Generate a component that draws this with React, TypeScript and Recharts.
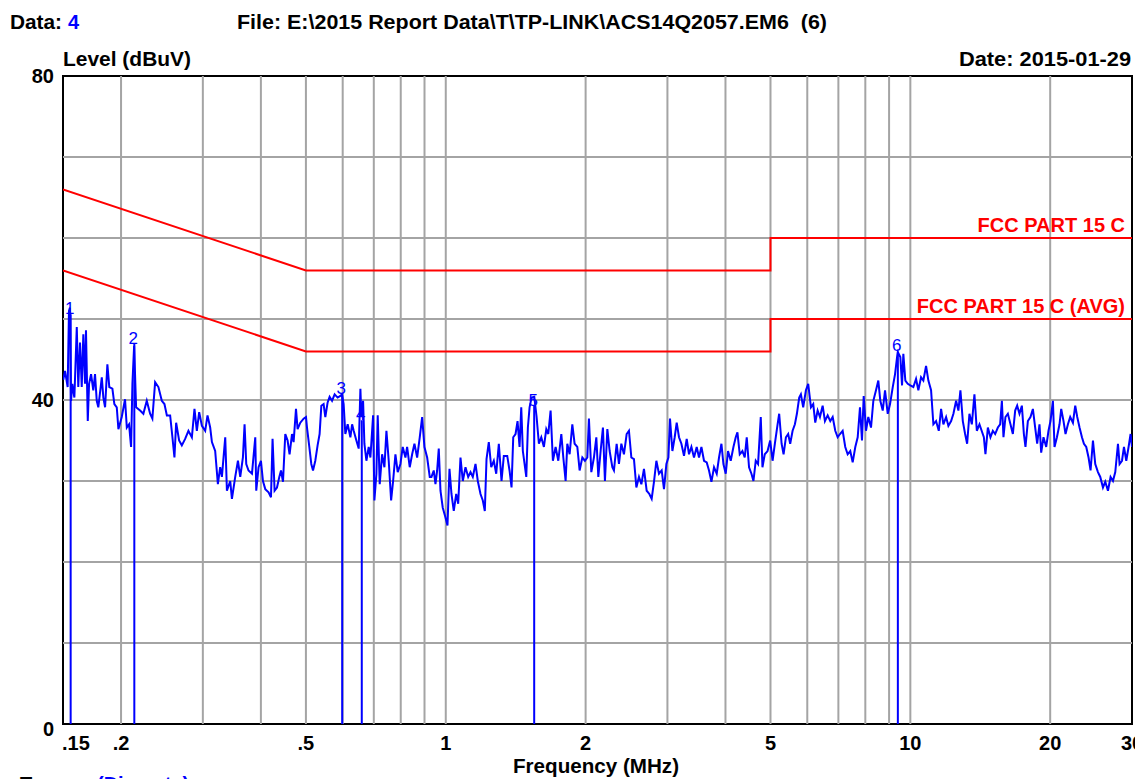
import React from "react";
import { LineChart, Line, XAxis, YAxis, ReferenceLine, ReferenceArea, ReferenceDot } from "recharts";

const FONT = "'Liberation Sans', Arial, sans-serif";
const BLUE = "#0000ff";
const RED = "#ff0000";
const GRID = "#a4a4a4";

// 扫描曲线 (MHz / dBuV)
const traceFreq = [
  0.1502, 0.1515, 0.1535, 0.1545, 0.1553, 0.1561, 0.1571, 0.1587, 0.1606, 0.1618, 0.1632, 0.1646, 0.1659, 0.1673, 0.1681,
  0.1696, 0.1707, 0.1724, 0.1743, 0.1758, 0.1773, 0.1787, 0.1818, 0.1832, 0.1848, 0.1869, 0.1887, 0.1916, 0.1935, 0.1958,
  0.1974, 0.2007, 0.204, 0.2058, 0.2081, 0.2102, 0.2116, 0.2134, 0.2155, 0.2198, 0.2234, 0.2272, 0.231, 0.2336, 0.2368,
  0.2407, 0.2448, 0.248, 0.251, 0.2551, 0.258, 0.2606, 0.2628, 0.2667, 0.2703, 0.2748, 0.2793, 0.2841, 0.2878, 0.2912,
  0.2946, 0.2986, 0.3035, 0.307, 0.3111, 0.3138, 0.3189, 0.3232, 0.3269, 0.3297, 0.3352, 0.338, 0.3436, 0.3465, 0.3522,
  0.357, 0.3611, 0.3659, 0.3689, 0.372, 0.3762, 0.3827, 0.389, 0.3909, 0.3954, 0.4001, 0.4041, 0.4088, 0.4155, 0.4205,
  0.4238, 0.4281, 0.4332, 0.4382, 0.4419, 0.4463, 0.4514, 0.4566, 0.4611, 0.4667, 0.4704, 0.476, 0.4798, 0.4863, 0.4943,
  0.5002, 0.5027, 0.5085, 0.5135, 0.5179, 0.5238, 0.5298, 0.5351, 0.5397, 0.5458, 0.5505, 0.5568, 0.5623, 0.5691, 0.5765,
  0.5851, 0.593, 0.598, 0.6028, 0.6079, 0.615, 0.6233, 0.6286, 0.6336, 0.6421, 0.6495, 0.655, 0.6582, 0.6638, 0.6681,
  0.6748, 0.6825, 0.6883, 0.6976, 0.7021, 0.7091, 0.7137, 0.7208, 0.7294, 0.7378, 0.7452, 0.7537, 0.7627, 0.7703, 0.7792,
  0.7881, 0.7987, 0.8079, 0.8188, 0.8257, 0.8364, 0.8465, 0.8562, 0.8677, 0.879, 0.8895, 0.8997, 0.9119, 0.9237, 0.9315,
  0.9422, 0.9502, 0.9582, 0.9659, 0.9741, 0.9852, 0.9985, 1.0085, 1.0186, 1.0287, 1.0405, 1.053, 1.0635, 1.0757, 1.0881,
  1.1027, 1.1176, 1.1304, 1.1434, 1.1588, 1.1721, 1.1879, 1.2015, 1.2135, 1.2238, 1.2378, 1.2527, 1.2689, 1.2841, 1.3008,
  1.3183, 1.3334, 1.3561, 1.3717, 1.3854, 1.3971, 1.4132, 1.4273, 1.4415, 1.4537, 1.4653, 1.4778, 1.4904, 1.5022, 1.515,
  1.53, 1.5507, 1.5686, 1.5866, 1.6055, 1.6264, 1.6458, 1.6622, 1.6813, 1.7006, 1.7235, 1.7467, 1.773, 1.7907, 1.8112,
  1.8265, 1.8475, 1.8724, 1.8939, 1.9194, 1.9414, 1.9677, 1.9932, 2.017, 2.0331, 2.0574, 2.0841, 2.109, 2.13, 2.1545,
  2.1792, 2.201, 2.2274, 2.2529, 2.2833, 2.3015, 2.3325, 2.3592, 2.3874, 2.4184, 2.451, 2.4791, 2.5088, 2.5415, 2.5719,
  2.6054, 2.6366, 2.6708, 2.7068, 2.7432, 2.7747, 2.8065, 2.8401, 2.877, 2.9158, 2.9493, 2.9846, 3.0144, 3.0384, 3.0747,
  3.1101, 3.1411, 3.1772, 3.2152, 3.2569, 3.3008, 3.3387, 3.3786, 3.4225, 3.4686, 3.5084, 3.5504, 3.5966, 3.645, 3.6867,
  3.7309, 3.7794, 3.8303, 3.8742, 3.9206, 3.9597, 4.005, 4.051, 4.1057, 4.161, 4.2087, 4.2444, 4.2931, 4.3509, 4.4008,
  4.4447, 4.4957, 4.5496, 4.595, 4.6477, 4.7011, 4.7646, 4.8049, 4.86, 4.928, 4.992, 5.052, 5.11, 5.179, 5.22,
  5.283, 5.335, 5.397, 5.458, 5.513, 5.579, 5.643, 5.699, 5.765, 5.813, 5.88, 5.96, 6.028, 6.11, 6.18,
  6.242, 6.316, 6.389, 6.475, 6.549, 6.638, 6.724, 6.805, 6.893, 6.975, 7.056, 7.15, 7.243, 7.33, 7.425,
  7.514, 7.612, 7.703, 7.791, 7.869, 7.936, 8.027, 8.119, 8.229, 8.324, 8.435, 8.532, 8.617, 8.721, 8.821,
  8.94, 9.043, 9.165, 9.27, 9.363, 9.4, 9.516, 9.597, 9.659, 9.755, 9.872, 10.0, 10.15, 10.287, 10.405,
  10.545, 10.666, 10.81, 10.935, 11.082, 11.209, 11.36, 11.514, 11.646, 11.78, 11.939, 12.075, 12.239, 12.38, 12.546,
  12.69, 12.817, 12.97, 13.119, 13.251, 13.403, 13.563, 13.739, 13.903, 14.085, 14.396, 14.51, 14.684, 14.874, 15.052,
  15.225, 15.43, 15.607, 15.74, 15.865, 16.023, 16.215, 16.425, 16.622, 16.813, 16.98, 17.175, 17.38, 17.554, 17.694,
  17.905, 18.138, 18.355, 18.566, 18.751, 18.966, 19.127, 19.347, 19.608, 19.833, 20.031, 20.271, 20.433, 20.678, 20.946,
  21.123, 21.366, 21.579, 21.837, 22.087, 22.386, 22.643, 22.869, 23.132, 23.409, 23.642, 23.913, 24.188, 24.429, 24.722,
  25.005, 25.342, 25.633, 25.979, 26.277, 26.631, 26.977, 27.3, 27.613, 27.985, 28.209, 28.547, 28.831, 29.162, 29.496,
  29.79, 30.0,
];
const traceLevel = [
  42.5, 43.6, 41.6, 51.0, 51.4, 39.9, 42.0, 40.3, 49.0, 41.6, 47.1, 41.6, 48.1, 42.0, 48.6,
  37.4, 42.0, 43.2, 41.2, 43.2, 39.9, 39.1, 42.8, 40.3, 39.1, 44.4, 41.6, 41.4, 39.5, 39.1,
  36.4, 37.9, 40.1, 36.6, 37.0, 34.2, 42.0, 46.7, 39.1, 38.7, 38.3, 39.9, 38.3, 37.7, 42.2,
  41.6, 39.9, 39.5, 38.1, 38.1, 35.4, 32.9, 37.2, 35.0, 34.4, 35.2, 36.2, 35.4, 38.9, 36.2,
  38.5, 36.8, 36.2, 38.1, 36.6, 34.8, 33.7, 29.6, 31.7, 30.5, 35.4, 28.8, 30.0, 27.8, 30.5,
  32.5, 30.5, 32.9, 37.0, 32.1, 31.3, 30.9, 35.4, 28.8, 31.7, 32.5, 30.0, 29.0, 28.6, 28.0,
  35.2, 28.8, 29.2, 30.5, 31.3, 29.9, 35.8, 35.0, 33.3, 35.8, 34.8, 38.9, 36.4, 37.2, 37.7,
  37.9, 36.6, 34.2, 32.1, 31.3, 32.5, 34.4, 35.8, 39.3, 39.5, 37.9, 39.7, 40.4, 39.9, 40.7,
  40.3, 40.5, 40.7, 39.5, 35.8, 37.0, 35.4, 37.0, 36.2, 35.0, 34.0, 41.4, 37.9, 39.9, 34.6,
  32.5, 34.2, 32.9, 38.1, 27.6, 30.9, 38.1, 29.6, 33.3, 31.7, 36.2, 32.5, 27.6, 30.0, 33.3,
  31.1, 32.1, 34.2, 32.9, 34.2, 31.7, 33.3, 34.6, 32.9, 35.4, 37.9, 34.2, 32.9, 30.5, 30.5,
  31.3, 29.6, 31.3, 34.0, 28.8, 26.7, 25.5, 24.5, 31.5, 28.4, 26.3, 28.4, 27.2, 32.9, 30.0,
  31.7, 30.5, 31.1, 30.5, 32.1, 30.0, 28.4, 27.6, 26.3, 32.7, 34.8, 31.7, 32.5, 30.9, 34.6,
  30.0, 33.1, 33.1, 31.3, 29.2, 35.4, 35.8, 37.4, 34.2, 39.1, 33.7, 32.1, 30.5, 36.6, 39.1,
  40.3, 40.4, 37.9, 34.6, 35.4, 34.2, 36.4, 35.8, 38.7, 32.5, 34.2, 32.5, 35.8, 32.9, 30.0,
  34.6, 33.3, 37.0, 34.6, 34.2, 31.3, 32.9, 32.5, 32.9, 37.7, 31.1, 32.9, 35.4, 30.5, 33.7,
  36.6, 30.0, 36.4, 33.7, 31.7, 31.3, 34.6, 32.1, 34.6, 33.3, 35.8, 36.2, 32.9, 32.7, 29.2,
  30.5, 29.6, 31.5, 28.8, 28.4, 27.8, 29.9, 32.5, 30.9, 31.3, 29.0, 32.1, 32.9, 37.7, 33.7,
  35.4, 37.2, 35.4, 34.6, 33.1, 35.2, 33.3, 34.2, 32.9, 34.2, 32.9, 34.2, 32.5, 32.3, 31.3,
  29.9, 31.7, 30.9, 32.9, 34.6, 32.1, 30.9, 33.7, 32.5, 34.2, 35.4, 36.0, 33.3, 33.7, 32.9,
  35.4, 31.7, 30.9, 30.0, 32.5, 32.1, 37.9, 31.7, 33.3, 33.7, 35.0, 32.5, 34.6, 37.0, 38.3,
  34.6, 33.3, 35.4, 35.8, 34.6, 36.2, 37.0, 38.3, 40.3, 40.7, 39.1, 41.2, 42.0, 39.1, 39.5,
  37.2, 38.7, 37.9, 39.3, 37.4, 38.1, 37.4, 37.9, 36.2, 35.4, 35.8, 36.2, 34.2, 33.3, 33.7,
  32.3, 34.2, 35.4, 39.1, 35.0, 40.5, 36.2, 37.9, 36.6, 39.9, 41.2, 42.4, 39.9, 38.7, 41.2,
  38.3, 39.5, 41.6, 43.2, 45.3, 45.9, 45.3, 41.8, 45.7, 42.4, 42.0, 41.8, 41.6, 42.6, 41.2,
  42.8, 42.4, 44.2, 42.4, 41.2, 37.0, 37.4, 36.2, 38.9, 37.0, 37.9, 36.8, 37.4, 38.3, 39.9,
  38.7, 41.2, 37.4, 35.8, 34.6, 38.3, 37.0, 40.7, 36.2, 37.0, 35.4, 33.3, 36.6, 35.4, 36.2,
  35.8, 36.6, 37.0, 39.9, 35.4, 37.9, 38.3, 37.0, 35.8, 38.7, 39.3, 38.3, 39.3, 35.8, 34.2,
  37.4, 37.9, 38.9, 36.6, 34.6, 37.0, 33.5, 35.4, 34.2, 36.2, 37.4, 39.9, 34.2, 35.4, 37.0,
  38.9, 37.4, 35.8, 37.0, 37.9, 37.2, 39.3, 37.9, 36.6, 35.4, 34.6, 34.2, 32.9, 31.3, 35.0,
  32.1, 31.1, 30.5, 29.2, 29.9, 28.8, 30.5, 30.0, 31.1, 34.6, 32.1, 32.5, 34.2, 32.5, 34.2,
  35.8, 34.2,
];

// FCC PART 15 C 限值
const limitFreq = [0.15, 0.5, 5, 5, 30];
const qpLimit = [66, 56, 56, 60, 60];
const avgLimit = [56, 46, 46, 50, 50];

// 标记点
const markerNo = ["1", "2", "3", "4", "5", "6"];
const markerFreq = [0.1558, 0.2136, 0.5985, 0.6595, 1.55, 9.4];
const markerLevel = [50.6, 46.9, 40.7, 37.5, 39.3, 46.0];

// 网格 / 刻度
const gridFreq = [0.2, 0.3, 0.4, 0.5, 0.6, 0.7, 0.8, 0.9, 1, 2, 3, 4, 5, 6, 7, 8, 9, 10, 20];
const gridLevel = [10, 20, 30, 40, 50, 60, 70];
const xTicks = [0.15, 0.2, 0.5, 1, 2, 5, 10, 20, 30];
const xTickLabels = [".15", ".2", ".5", "1", "2", "5", "10", "20", "30"];
const yTicks = [0, 40, 80];

const traceData = traceFreq.map((f, i) => ({ f, level: traceLevel[i] }));
const qpData = limitFreq.map((f, i) => ({ f, level: qpLimit[i] }));
const avgData = limitFreq.map((f, i) => ({ f, level: avgLimit[i] }));
const last = limitFreq.length - 1;

const txt = { fontFamily: FONT, fontWeight: 700, fontSize: 20 } as const;

const renderXTick = (props: any) => {
  const { x, y, payload } = props;
  const i = xTicks.indexOf(payload.value);
  const first = i === 0;
  return (
    <text x={first ? x - 1 : x} y={y + 26} textAnchor={first ? "start" : "middle"} fill="#000" style={txt}>
      {xTickLabels[i]}
    </text>
  );
};

const renderYTick = (props: any) => {
  const { x, y, payload } = props;
  return (
    <text x={x - 9} y={y + (payload.value === 0 ? 12 : 7)} textAnchor="end" fill="#000" style={txt}>
      {payload.value}
    </text>
  );
};

const limitLabel = (text: string) => (p: any) => (
  <text x={p.cx - 7} y={p.cy - 6} textAnchor="end" fill={RED} style={txt}>
    {text}
  </text>
);

const markerLabel = (n: string) => (p: any) => (
  <text x={p.cx - 1} y={p.cy} textAnchor="middle" fill={BLUE} style={{ fontFamily: FONT, fontSize: 17 }}>
    {n}
  </text>
);

export default function App() {
  return (
    <div style={{ position: "absolute", left: 0, top: 0, width: 1135, height: 779, background: "#fff", overflow: "hidden" }}>
      <LineChart width={1135} height={779} margin={{ top: 76, right: 3, bottom: 0, left: 0 }}>
        <XAxis
          dataKey="f"
          type="number"
          scale="log"
          domain={[0.15, 30]}
          allowDataOverflow
          ticks={xTicks}
          height={55}
          tickSize={0}
          tickMargin={0}
          axisLine={false}
          tickLine={false}
          tick={renderXTick}
          interval={0}
        />
        <YAxis
          type="number"
          domain={[0, 80]}
          allowDataOverflow
          ticks={yTicks}
          width={63}
          tickSize={0}
          tickMargin={0}
          axisLine={false}
          tickLine={false}
          tick={renderYTick}
          interval={0}
        />
        {gridFreq.map((f) => (
          <ReferenceLine key={`gx${f}`} x={f} stroke={GRID} strokeWidth={2} />
        ))}
        {gridLevel.map((l) => (
          <ReferenceLine key={`gy${l}`} y={l} stroke={GRID} strokeWidth={2} />
        ))}
        <Line data={qpData} dataKey="level" type="linear" stroke={RED} strokeWidth={2} dot={false} isAnimationActive={false} />
        <Line data={avgData} dataKey="level" type="linear" stroke={RED} strokeWidth={2} dot={false} isAnimationActive={false} />
        {markerFreq.map((f, i) => (
          <ReferenceLine
            key={`m${i}`}
            segment={[{ x: f, y: 0 }, { x: f, y: markerLevel[i] }]}
            stroke={BLUE}
            strokeWidth={2}
          />
        ))}
        <Line data={traceData} dataKey="level" type="linear" stroke={BLUE} strokeWidth={2} dot={false} isAnimationActive={false} />
        {markerFreq.map((f, i) => (
          <ReferenceDot key={`ml${i}`} x={f} y={markerLevel[i]} r={1} shape={markerLabel(markerNo[i])} />
        ))}
        <ReferenceDot x={limitFreq[last]} y={qpLimit[last]} r={1} shape={limitLabel("FCC PART 15 C")} />
        <ReferenceDot x={limitFreq[last]} y={avgLimit[last]} r={1} shape={limitLabel("FCC PART 15 C (AVG)")} />
        <ReferenceArea x1={0.15} x2={30} y1={0} y2={80} fill="none" stroke="#000" strokeWidth={2} ifOverflow="visible" />
      </LineChart>
      <svg width={1135} height={779} style={{ position: "absolute", left: 0, top: 0, pointerEvents: "none" }}>
        <text x={10} y={29} style={txt} textLength={52} lengthAdjust="spacingAndGlyphs">Data:</text>
        <text x={68} y={29} style={txt} fill={BLUE}>4</text>
        <text x={237} y={29} style={{ ...txt, whiteSpace: "pre" }} textLength={590} lengthAdjust="spacingAndGlyphs">
          {"File: E:\\2015 Report Data\\T\\TP-LINK\\ACS14Q2057.EM6  (6)"}
        </text>
        <text x={63} y={66} style={txt} textLength={128} lengthAdjust="spacingAndGlyphs">Level (dBuV)</text>
        <text x={959} y={66} style={txt} textLength={172} lengthAdjust="spacingAndGlyphs">Date: 2015-01-29</text>
        <text x={513} y={773} style={txt} textLength={166} lengthAdjust="spacingAndGlyphs">Frequency (MHz)</text>
        <text x={20} y={791} style={txt}>Trace:</text>
        <text x={97} y={791} style={txt} fill={BLUE}>(Discrete)</text>
      </svg>
    </div>
  );
}
